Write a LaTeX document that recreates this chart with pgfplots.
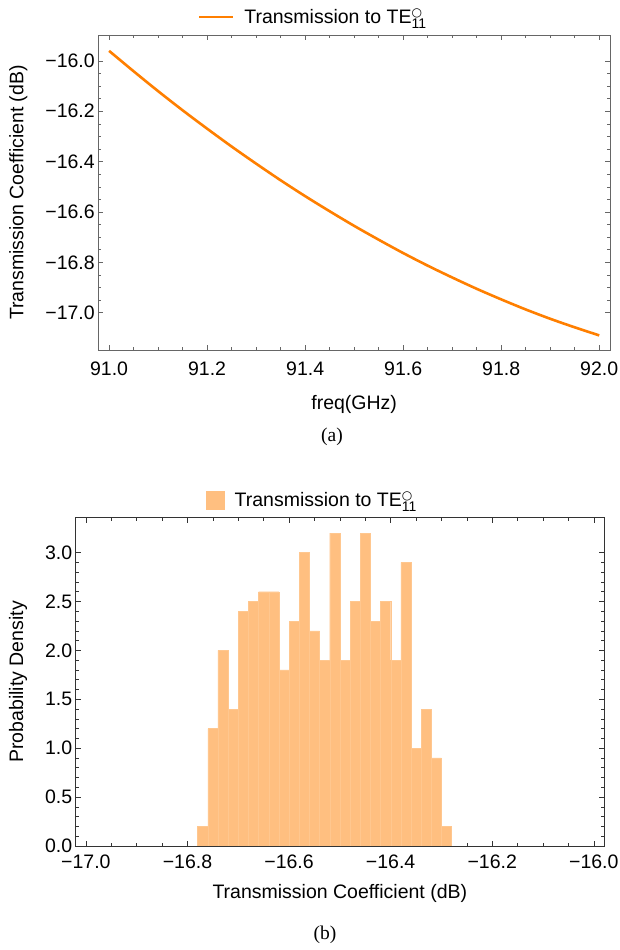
\documentclass[border=0pt]{standalone}
\usepackage{fontspec}
\setmainfont{Liberation Sans}
\newfontfamily\seriffont{Liberation Serif}
\newfontfamily\symfont{DejaVu Sans}
\usepackage{pgfplots}
\pgfplotsset{compat=1.18}
\definecolor{lineor}{RGB}{255,127,0}
\definecolor{histfill}{RGB}{255,191,128}
\newcommand{\TE}{TE\rlap{\raisebox{7pt}{\fontsize{12}{12}\selectfont\symfont ○}}\raisebox{-4.5pt}{\fontsize{14}{14}\selectfont 11}}
\begin{document}
\begin{tikzpicture}
\useasboundingbox (0pt,0pt) rectangle (620pt,950pt);
\pgfplotsset{
  every axis/.append style={
    font=\fontsize{19.5}{23}\selectfont,
    scale only axis,
    tick align=inside,
    tick pos=both,
    xticklabel pos=bottom,
    yticklabel pos=left,
    major tick length=5pt,
    minor tick length=3pt,
    every tick/.style={black!60, line width=0.6pt},
    axis line style={black!60, line width=0.8pt},
    legend style={draw=none, fill=none, font=\fontsize{19.5}{23}\selectfont, anchor=center},
  }
}
% ---------- (a) ----------
\begin{axis}[
  at={(98.3pt,600pt)}, anchor=south west,
  width=511.7pt, height=315pt,
  xmin=90.978, xmax=92.022,
  ymin=-17.148, ymax=-15.897,
  xtick={91,91.2,91.4,91.6,91.8,92},
  xticklabels={91.0,91.2,91.4,91.6,91.8,92.0},
  ytick={-17,-16.8,-16.6,-16.4,-16.2,-16},
  yticklabels={−17.0,−16.8,−16.6,−16.4,−16.2,−16.0},
  xticklabel style={yshift=-8pt},
  minor x tick num=3,
  minor y tick num=3,
  xlabel={freq(GHz)},
  ylabel={Transmission Coefficient (dB)},
  xlabel style={at={(axis description cs:0.5,0)}, yshift=-54pt, anchor=center},
  ylabel style={at={(axis description cs:-0.1563,0.5)}, anchor=center},
  legend style={at={(axis description cs:0.4196,1.057)}},
  legend image code/.code={\draw[line width=2.5pt, lineor] (0pt,0pt) -- (34pt,0pt);},
]
\addplot[lineor, line width=2.6pt, smooth] coordinates {
(91.00,-15.960) (91.05,-16.041) (91.10,-16.120) (91.15,-16.196)
(91.20,-16.269) (91.25,-16.340) (91.30,-16.408) (91.35,-16.474)
(91.40,-16.537) (91.45,-16.597) (91.50,-16.655) (91.55,-16.710)
(91.60,-16.763) (91.65,-16.813) (91.70,-16.860) (91.75,-16.905)
(91.80,-16.947) (91.85,-16.987) (91.90,-17.024) (91.95,-17.058)
(92.00,-17.090)
};
\addlegendentry{\hspace{8pt}Transmission to \TE}
\end{axis}
\node[font=\fontsize{19.5}{23}\selectfont\seriffont] at (332pt,513pt) {(a)};
% ---------- (b) ----------
\begin{axis}[
  at={(75.7pt,104pt)}, anchor=south west,
  width=528.3pt, height=328.3pt,
  xmin=-17.02, xmax=-15.98,
  ymin=0, ymax=3.357,
  xtick={-17,-16.8,-16.6,-16.4,-16.2,-16},
  xticklabels={−17.0,−16.8,−16.6,−16.4,−16.2,−16.0},
  ytick={0,0.5,1,1.5,2,2.5,3},
  yticklabels={0.0,0.5,1.0,1.5,2.0,2.5,3.0},
  xticklabel style={yshift=-5pt},
  minor x tick num=3,
  minor y tick num=4,
  axis line style={black!80, line width=0.8pt},
  every tick/.style={black!80, line width=0.6pt},
  xlabel={Transmission Coefficient (dB)},
  ylabel={Probability Density},
  xlabel style={at={(axis description cs:0.5,0)}, yshift=-47pt, anchor=center},
  ylabel style={at={(axis description cs:-0.1092,0.5)}, anchor=center},
  legend style={at={(axis description cs:0.448,1.054)}},
  legend image code/.code={\fill[histfill] (0pt,-9pt) rectangle (18pt,9pt);},
]
\addplot[ybar interval, fill=histfill, draw=histfill!88!white, line width=0.3pt] coordinates {
(-16.78,0.2) (-16.76,1.2) (-16.74,2.0) (-16.72,1.4) (-16.70,2.4)
(-16.68,2.5) (-16.66,2.6) (-16.64,2.6) (-16.62,1.8) (-16.60,2.3)
(-16.58,3.0) (-16.56,2.2) (-16.54,1.9) (-16.52,3.2) (-16.50,1.9)
(-16.48,2.5) (-16.46,3.2) (-16.44,2.3) (-16.42,2.5) (-16.40,1.9)
(-16.38,2.9) (-16.36,1.0) (-16.34,1.4) (-16.32,0.9) (-16.30,0.2)
(-16.28,0.2)
};
\addlegendentry{\hspace{8pt}Transmission to \TE}
\end{axis}
\node[font=\fontsize{19.5}{23}\selectfont\seriffont] at (325pt,15pt) {(b)};
\end{tikzpicture}
\end{document}
